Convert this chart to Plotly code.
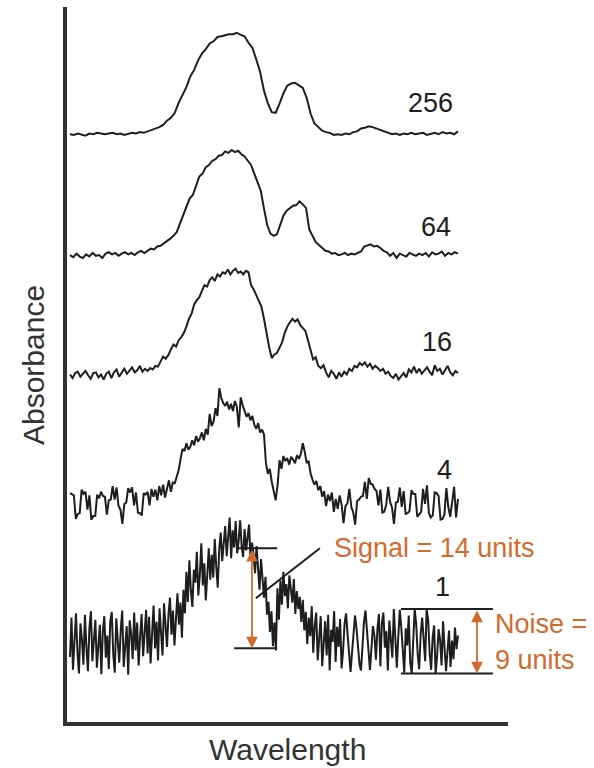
import numpy as np
import plotly.graph_objects as go

# ---- Spectra: absorbance above each trace's own baseline (units), by number of scans averaged ----
scans = ["256", "64", "16", "4", "1"]

abs_256 = [
    0.0, -0.1, 0.1, 0.0, -0.2, 0.1, 0.0, 0.2, 0.1, 0.0,
    0.1, 0.2, 0.0, 0.1, -0.1, 0.1, 0.2, 0.1, 0.3, 0.2,
    0.4, 0.5, 0.8, 1.0, 1.3, 1.9, 2.3, 3.0, 4.4, 5.6,
    6.6, 8.1, 9.0, 10.3, 11.3, 11.9, 12.7, 13.0, 13.6, 13.7,
    13.9, 14.0, 14.0, 14.2, 13.9, 13.7, 12.8, 12.1, 10.5, 8.7,
    6.1, 4.3, 3.1, 3.0, 4.3, 5.7, 6.8, 7.1, 7.2, 6.9,
    6.5, 5.1, 2.9, 1.5, 1.0, 0.5, 0.3, 0.2, -0.1, 0.0,
    -0.1, 0.1, 0.0, 0.3, 0.4, 0.8, 0.9, 1.1, 1.0, 0.8,
    0.7, 0.4, 0.3, 0.0, 0.1, -0.1, 0.1, 0.0, 0.2, 0.0,
    0.1, 0.2, -0.1, 0.1, 0.2, 0.0, 0.3, 0.1, 0.2, 0.0, 0.4,
]

abs_64 = [
    0.0, -0.3, 0.2, -0.2, -0.4, 0.1, -0.2, 0.3, -0.1, 0.0, -0.4, 0.2,
    0.4, 0.1, 0.3, -0.1, 0.2, 0.4, 0.1, 0.3, 0.0, 0.4, 0.6, 0.3,
    0.6, 0.9, 0.8, 1.2, 1.3, 1.6, 2.0, 2.3, 2.7, 3.2, 4.4, 5.6,
    6.7, 7.9, 8.4, 9.6, 11.0, 11.4, 12.3, 12.6, 13.2, 13.4, 13.9, 14.0,
    14.5, 14.3, 14.7, 14.4, 14.6, 14.1, 13.8, 13.2, 12.6, 11.4, 10.3, 9.0,
    6.5, 4.2, 3.0, 2.7, 2.9, 4.3, 5.5, 6.2, 6.6, 6.9, 7.0, 7.5,
    7.1, 6.6, 3.6, 2.6, 1.8, 1.4, 1.0, 0.6, 0.5, 0.2, 0.3, 0.0,
    0.1, 0.3, 0.0, 0.2, 0.1, 0.3, 0.5, 1.2, 1.4, 1.5, 1.2, 1.3,
    1.0, 0.6, 0.4, -0.1, 0.3, -0.4, 0.2, 0.0, -0.2, 0.3, 0.1, -0.1,
    0.2, 0.0, 0.3, -0.2, 0.4, 0.1, 0.2, 0.5, -0.1, 0.3, 0.1, 0.4, 0.2,
]

abs_16 = [
    0.1, -0.4, 0.3, 0.5, -0.2, 0.2, 0.6, 0.0, -0.5, 0.3, 0.4, -0.3, 0.1, -0.6, 0.2,
    0.5, -0.4, 0.4, 0.8, -0.2, 0.3, 0.9, 0.2, 0.6, 1.1, 0.4, 0.7, 1.3, 0.5, 0.9,
    0.6, 1.0, 0.8, 1.3, 1.2, 1.9, 2.6, 2.3, 2.8, 3.6, 4.3, 4.0, 4.9, 5.3, 5.9,
    6.8, 7.9, 8.6, 9.9, 10.5, 10.9, 11.8, 12.6, 12.4, 13.3, 13.7, 13.2, 14.1, 13.8, 14.4,
    14.2, 14.8, 14.1, 14.6, 14.9, 14.3, 14.5, 14.1, 14.6, 14.4, 12.6, 12.0, 11.2, 10.5, 9.6,
    7.9, 5.8, 3.9, 2.4, 2.9, 3.1, 3.8, 4.6, 5.9, 6.8, 7.4, 7.9, 7.5, 7.8, 7.0,
    6.6, 6.2, 4.9, 3.6, 2.2, 2.5, 1.3, 1.0, 1.4, 0.4, -0.3, 0.6, 0.2, -0.5, 0.4,
    -0.2, 0.5, 0.1, 0.9, 0.6, 1.3, 1.1, 1.7, 1.4, 1.8, 1.2, 1.6, 0.9, 1.3, 1.0,
    0.6, 0.9, 0.2, 0.5, -0.1, -0.4, 0.2, -0.6, -0.2, 0.3, -0.3, 0.8, 0.4, 1.2, 0.3,
    0.9, 0.2, 0.7, 1.1, 0.5, 0.0, 1.4, 0.6, 0.9, 0.1, 0.7, 1.3, 0.4, 0.0, 0.6,
    0.3,
]

abs_4 = [
    1.4, 1.2, 1.1, -2.2, -1.5, -1.4, 1.9, 1.3, 1.6, -0.9, 1.1, -2.3, -1.8, -1.8, 1.2, 0.7, 1.6, 1.0, 0.9, -1.6,
    0.4, 0.5, 2.4, 0.5, 2.2, -0.4, -0.9, -2.9, -0.1, 0.1, 2.1, 1.5, 2.2, -0.3, 1.5, -1.3, -1.4, -1.7, 1.4, 1.2,
    1.6, -0.3, 2.0, 0.9, 1.9, 0.4, 2.4, 1.1, 2.6, 0.8, 1.9, 3.2, 1.6, 2.9, 2.8, 3.9, 4.6, 6.2, 7.6, 7.3,
    8.4, 7.5, 7.9, 8.8, 8.1, 9.4, 8.6, 9.1, 9.9, 8.8, 10.4, 9.6, 12.5, 10.8, 11.4, 13.3, 12.2, 16.1, 14.7, 14.0,
    13.6, 14.2, 13.1, 13.9, 12.9, 14.3, 13.5, 10.6, 14.8, 13.7, 12.8, 12.1, 12.6, 11.6, 12.2, 11.0, 10.4, 11.2, 9.9, 10.3,
    9.6, 5.6, 4.1, 4.8, 3.0, 1.6, 0.4, 2.5, 6.0, 4.8, 6.6, 5.9, 6.3, 5.4, 6.5, 6.1, 5.6, 6.7, 6.2, 6.9,
    8.4, 7.2, 5.6, 5.9, 4.2, 3.3, 2.6, 3.1, 1.8, 2.4, 0.9, 1.7, -0.4, 1.2, 0.3, 1.5, -1.2, 0.6, -0.8, 1.1,
    -0.2, -2.8, -0.4, 0.0, 2.0, -0.5, -1.3, -3.0, 0.3, 0.5, 0.9, 1.0, 3.0, 0.6, 3.5, 2.7, 2.6, 2.0, 1.7, -0.3,
    1.9, -1.3, -1.2, -0.2, 2.3, 0.2, -0.6, -2.9, 0.1, 0.2, 2.2, -0.5, 1.7, -1.5, -1.4, -1.1, 1.8, 1.3, 1.3, -1.9,
    -1.6, -1.2, 2.0, -0.1, 2.5, -1.4, -2.0, -1.7, 1.5, 1.4, 1.0, -2.3, -2.2, -1.6, 2.1, -0.5, -1.9, 0.1, 2.3, -2.0,
    0.6,
]

abs_1 = [
    -2.1, 3.4, -3.9, 1.2, 4.0, -1.5, -4.4, 2.6, 0.3, -3.2, 3.8, -0.8, -4.1, 1.9, 4.3, -2.7, 0.6, 3.1, -3.6, -1.0, 2.4, -4.5, 1.5, 3.6, -2.2, 0.9,
    -3.8, 2.9, 4.2, -1.8, -4.3, 3.3, 0.5, -2.9, 1.7, 4.4, -3.5, -0.4, 2.2, -4.6, 3.0, 1.1, -2.4, 4.1, -1.2, 2.7, -3.3, 0.8, 3.9, -2.0, 1.4, 4.5,
    -1.6, 3.5, -3.0, 2.0, 5.1, -0.9, 2.8, -2.6, 4.7, 1.3, -1.9, 5.4, 2.1, -0.7, 3.9, 6.2, 1.0, 4.4, -0.5, 3.0, 6.8, 2.4, 5.5, 0.6, 7.3, 4.0,
    9.8, 5.6, 11.4, 7.2, 4.9, 10.1, 8.3, 12.6, 6.5, 9.4, 13.8, 7.9, 11.0, 5.8, 10.6, 13.1, 8.7, 12.2, 9.0, 14.4, 10.5, 7.6, 12.9, 15.3, 11.3, 13.7,
    16.2, 12.0, 14.8, 17.4, 11.7, 15.6, 13.2, 16.9, 12.4, 14.1, 17.0, 13.5, 11.9, 15.8, 12.8, 14.6, 16.4, 11.5, 13.9, 12.2, 9.6, 13.4, 10.8, 7.3, 11.6, 8.4,
    6.2, 9.1, 3.8, 5.6, 1.4, 4.3, -0.6, 2.7, -1.2, 7.5, 3.1, 8.6, 5.2, 9.8, 6.4, 8.1, 4.7, 9.3, 6.9, 5.5, 8.8, 3.9, 7.1, 4.6, 6.3, 2.8,
    5.9, 1.6, 4.2, -0.3, 3.4, 0.8, 5.0, -1.5, 2.3, 4.1, -2.6, 1.2, 3.6, -3.4, 0.4, 2.9, -1.9, 3.8, -4.0, 1.7, 0.0, 4.3, -2.8, 2.1, -0.7, 3.2,
    -3.7, -1.2, 2.6, 4.0, 1.1, -2.4, -4.2, -1.5, 0.6, 3.7, 1.9, -0.8, -3.1, -4.0, 0.2, 2.8, 4.4, 1.3, -1.7, -3.9, -0.9, 2.2, 0.9, -2.5, 1.8, 3.9,
    -3.4, 2.6, 4.1, -0.8, 1.5, -4.0, 3.0, 0.1, -2.2, 4.6, 1.2, -3.6, 0.8, 4.5, 2.0, -1.4, -4.3, 1.9, -0.5, 3.7, -2.9, -4.4, 0.7, 4.6, 2.5, -1.8,
    -3.8, 1.1, 3.4, 0.0, -2.7, 4.6, 3.1, -1.5, -3.9, 0.6, 2.3, -4.4, -2.0, 1.8, 0.3, -3.3, 2.9, -0.9, -4.1, -1.2, 1.6, -3.5, 0.2, -2.4, 2.0, -1.0,
    0.9,
]

spectra = [abs_256, abs_64, abs_16, abs_4, abs_1]

# vertical stacking of the traces (units)
stack_offset = [82.2, 65.3, 48.5, 30.6, 11.2]

# wavelength span covered by each recorded spectrum (arbitrary units)
wl_start, wl_end = 0.0, 100.0

# measured quantities annotated on the single-scan spectrum
signal_units = 14
noise_units = 9
signal_top = 24.3
noise_top = 15.8

INK = "#1e1e1e"
AXIS = "#333333"
ORANGE = "#D56A2E"
FONT = "Liberation Sans, Arial, Helvetica, sans-serif"

fig = go.Figure()
for name, vals, off in zip(scans, spectra, stack_offset):
    x = np.linspace(wl_start, wl_end, len(vals))
    y = np.array(vals) + off
    fig.add_trace(go.Scatter(
        x=x, y=y, mode="lines", name=name,
        line=dict(color=INK, width=2), hoverinfo="skip", showlegend=False,
    ))

# scan-count labels beside each trace
label_pos = [(92.8, 86.6), (94.3, 69.2), (94.6, 53.1), (96.6, 35.2), (96.1, 18.9)]
annotations = []
for name, (lx, ly) in zip(scans, label_pos):
    annotations.append(dict(
        x=lx, y=ly, xref="x", yref="y", text=name, showarrow=False,
        font=dict(family=FONT, size=27, color=INK), xanchor="center", yanchor="middle",
    ))

# signal: double-headed arrow and its two reference levels
sig_x = 46.9
sig_bot = signal_top - signal_units
shapes = [
    dict(type="line", xref="x", yref="y", x0=43.0, x1=53.4, y0=signal_top, y1=signal_top,
         line=dict(color=INK, width=2)),
    dict(type="line", xref="x", yref="y", x0=42.3, x1=53.4, y0=sig_bot, y1=sig_bot,
         line=dict(color=INK, width=2)),
    dict(type="line", xref="x", yref="y", x0=47.9, x1=64.4, y0=17.3, y1=signal_top,
         line=dict(color=INK, width=2)),
]
annotations.append(dict(
    x=sig_x, y=sig_bot, ax=sig_x, ay=signal_top, xref="x", yref="y", axref="x", ayref="y",
    text="", showarrow=True, arrowside="end+start", arrowhead=2, startarrowhead=2,
    arrowsize=1.3, startarrowsize=1.3, arrowwidth=1.8, arrowcolor=ORANGE,
    standoff=0, startstandoff=0,
))
annotations.append(dict(
    x=67.5, y=signal_top, xref="x", yref="y", text="Signal = 14 units", showarrow=False,
    font=dict(family=FONT, size=27, color=ORANGE), xanchor="left", yanchor="middle",
))

# noise: peak-to-peak band on the flat region of the single-scan spectrum
noise_x = 104.9
noise_bot = noise_top - noise_units
shapes += [
    dict(type="line", xref="x", yref="y", x0=85.3, x1=109.0, y0=noise_top, y1=noise_top,
         line=dict(color=INK, width=2)),
    dict(type="line", xref="x", yref="y", x0=85.3, x1=109.0, y0=noise_bot, y1=noise_bot,
         line=dict(color=INK, width=2)),
]
annotations.append(dict(
    x=noise_x, y=noise_bot, ax=noise_x, ay=noise_top, xref="x", yref="y", axref="x", ayref="y",
    text="", showarrow=True, arrowside="end+start", arrowhead=2, startarrowhead=2,
    arrowsize=1.3, startarrowsize=1.3, arrowwidth=1.8, arrowcolor=ORANGE,
    standoff=0, startstandoff=0,
))
annotations.append(dict(
    x=109.0, y=13.7, xref="x", yref="y", text="Noise =", showarrow=False,
    font=dict(family=FONT, size=27, color=ORANGE), xanchor="left", yanchor="middle",
))
annotations.append(dict(
    x=109.0, y=8.7, xref="x", yref="y", text="9 units", showarrow=False,
    font=dict(family=FONT, size=27, color=ORANGE), xanchor="left", yanchor="middle",
))

# axis titles
annotations.append(dict(
    x=0.501, y=-0.038, xref="paper", yref="paper", text="Wavelength", showarrow=False,
    font=dict(family=FONT, size=30, color=AXIS), xanchor="center", yanchor="middle",
))
annotations.append(dict(
    x=-0.077, y=0.4993, xref="paper", yref="paper", text="Absorbance", showarrow=False,
    textangle=-90, font=dict(family=FONT, size=30, color=AXIS), xanchor="center", yanchor="middle",
))

fig.update_layout(
    width=594, height=768,
    margin=dict(l=67, r=86, t=7, b=46),
    paper_bgcolor="white", plot_bgcolor="white",
    xaxis=dict(range=[-0.773, 112.89], showgrid=False, zeroline=False, showticklabels=False,
               ticks="", showline=True, linecolor=AXIS, linewidth=4),
    yaxis=dict(range=[0, 100], showgrid=False, zeroline=False, showticklabels=False,
               ticks="", showline=True, linecolor=AXIS, linewidth=4),
    shapes=shapes,
    annotations=annotations,
    showlegend=False,
)

fig.write_html("out.html")
